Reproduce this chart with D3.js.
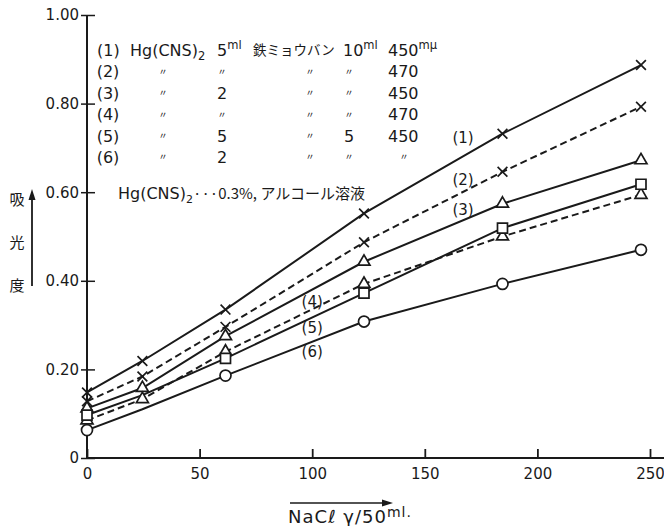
<!DOCTYPE html>
<html>
<head>
<meta charset="utf-8">
<script src="https://cdn.jsdelivr.net/npm/d3@7"></script>
<style>
  body { margin: 0; background: #fff; }
  svg text { font-family: "DejaVu Sans", sans-serif; fill: #1a1a1a; }
  .jp { font-family: "Noto Sans CJK JP", sans-serif; }
</style>
</head>
<body>
<svg id="chart" width="664" height="526"></svg>
<script>
// NaCl (gamma / 50 ml) on x, absorbance on y
var nacl = [0, 24.6, 61.5, 123, 184.5, 246];
var abs1 = [0.148, 0.219, 0.335, 0.552, 0.732, 0.887];
var abs2 = [0.128, 0.184, 0.296, 0.487, 0.646, 0.793];
var abs3 = [0.112, 0.158, 0.275, 0.443, 0.574, 0.672];
var abs4 = [0.085, 0.133, 0.240, 0.393, 0.500, 0.594];
var abs5 = [0.097, 0.142, 0.225, 0.372, 0.519, 0.618];
var abs6 = [0.063, 0.110, 0.186, 0.308, 0.393, 0.470];
var seriesNames = ["(1)", "(2)", "(3)", "(4)", "(5)", "(6)"];
var xTicks = [0, 50, 100, 150, 200, 250];
var yTicks = [0, 0.2, 0.4, 0.6, 0.8, 1.0];

// legend table ("^" = superscript, "_" = subscript)
var legendHead = ["(1)", "Hg(CNS)_2", "5^ml", "鉄ミョウバン", "10^ml", "450^mμ"];
var legendRows = [
  ["(2)", "〃", "〃", "〃", "〃", "470"],
  ["(3)", "〃", "2", "〃", "〃", "450"],
  ["(4)", "〃", "〃", "〃", "〃", "470"],
  ["(5)", "〃", "5", "〃", "5", "450"],
  ["(6)", "〃", "2", "〃", "〃", "〃"]
];
var noteText = ["Hg(CNS)", "2", "···0.3%, アルコール溶液"];

var svg = d3.select("#chart")
var x = d3.scaleLinear().domain([0, 250]).range([87, 650])
var y = d3.scaleLinear().domain([0, 1]).range([458, 15])

// skip = points drawn without a marker in the original
var series = [
  {v: abs1, dash: null, sym: "x", skip: []},
  {v: abs2, dash: "7,4", sym: "x", skip: []},
  {v: abs3, dash: null, sym: "tri", skip: []},
  {v: abs4, dash: "7,4", sym: "tri", skip: []},
  {v: abs5, dash: null, sym: "sq", skip: [1]},
  {v: abs6, dash: null, sym: "o", skip: [1]}
]

// axes
var gx = svg.append("g").attr("transform", "translate(0," + y(0) + ")")
  .call(d3.axisBottom(x).tickValues(xTicks).tickSize(-9).tickSizeOuter(0).tickPadding(10))
gx.select(".domain").remove()
gx.selectAll("line").attr("stroke", "#1a1a1a").attr("stroke-width", 1.8)
gx.selectAll("text").attr("font-size", 15).attr("fill", "#1a1a1a")
svg.append("line").attr("x1", x(0)).attr("x2", 664).attr("y1", y(0)).attr("y2", y(0))
  .attr("stroke", "#1a1a1a").attr("stroke-width", 2)

var gy = svg.append("g").attr("transform", "translate(" + x(0) + ",0)")
  .call(d3.axisLeft(y).tickValues(yTicks).tickSize(6).tickSizeOuter(0).tickPadding(2)
    .tickFormat(function(d) { return d === 0 ? "0" : d.toFixed(2) }))
gy.select(".domain").remove()
gy.selectAll("line").attr("x1", 8).attr("stroke", "#1a1a1a").attr("stroke-width", 1.5)
gy.selectAll("text").attr("font-size", 15).attr("fill", "#1a1a1a")
svg.append("line").attr("x1", x(0)).attr("x2", x(0)).attr("y1", y(1)).attr("y2", y(0))
  .attr("stroke", "#1a1a1a").attr("stroke-width", 2)

// curves
var line = d3.line().x(function(d, i) { return x(nacl[i]) }).y(function(d) { return y(d) })
series.forEach(function(s) {
  svg.append("path").attr("d", line(s.v)).attr("fill", "none")
    .attr("stroke", "#1a1a1a").attr("stroke-width", 2)
    .attr("stroke-dasharray", s.dash)
})

var symbols = {
  x: d3.symbol().type(d3.symbolTimes).size(64),
  tri: d3.symbol().type(d3.symbolTriangle).size(62),
  sq: d3.symbol().type(d3.symbolSquare).size(100),
  o: d3.symbol().type(d3.symbolCircle).size(95)
}
series.forEach(function(s) {
  var pts = s.v.map(function(d, i) { return [nacl[i], d, i] })
    .filter(function(p) { return s.skip.indexOf(p[2]) < 0 })
  svg.append("g").selectAll("path").data(pts).enter().append("path")
    .attr("d", symbols[s.sym])
    .attr("transform", function(p) { return "translate(" + x(p[0]) + "," + y(p[1]) + ")" })
    .attr("fill", s.sym === "x" ? "none" : "#fff")
    .attr("stroke", "#1a1a1a").attr("stroke-width", 1.7)
})

// series labels, placed in data units
var labelAt = [[167, 0.722], [167, 0.627], [167, 0.560], [100, 0.353], [100, 0.294], [100, 0.239]]
svg.selectAll(".slabel").data(seriesNames).enter().append("text").attr("class", "slabel")
  .attr("x", function(d, i) { return x(labelAt[i][0]) })
  .attr("y", function(d, i) { return y(labelAt[i][1]) })
  .attr("dy", "0.35em").attr("text-anchor", "middle").attr("font-size", 15)
  .text(function(d) { return d })

// rich text helper for ^ and _
function rich(sel, str, size) {
  var m = str.match(/^([^\^_]*)([\^_])(.*)$/)
  var cjk = /[\u3000-\u9fff]/.test(str)
  if (cjk) sel.attr("class", "jp")
  if (!m) { sel.text(str); return }
  sel.append("tspan").text(m[1])
  sel.append("tspan").text(m[3]).attr("font-size", size * 0.72)
    .attr("dy", m[2] === "^" ? -size * 0.42 : size * 0.25)
}

var headX = [97, 130, 217, 253, 343, 388]
var rowY = [50, 71.5, 93, 114.5, 136, 157]
legendHead.forEach(function(t, j) {
  var el = svg.append("text").attr("x", headX[j]).attr("y", rowY[0]).attr("dy", "0.36em")
    .attr("font-size", t === "鉄ミョウバン" ? 13.5 : 16)
  rich(el, t, 16)
})
var colX = [108, 163, 222, 310, 349, 404]
legendRows.forEach(function(r, i) {
  r.forEach(function(t, j) {
    var ditto = t === "〃"
    svg.append("text").attr("y", rowY[i + 1]).attr("dy", "0.36em")
      .attr("text-anchor", j === 5 && !ditto ? "start" : "middle")
      .attr("x", j === 5 && !ditto ? 388 : colX[j])
      .attr("class", ditto ? "jp" : null)
      .attr("font-size", ditto ? 9 : 16)
      .text(t)
  })
})

var note = svg.append("text").attr("x", 118).attr("y", 193).attr("dy", "0.36em").attr("font-size", 16)
note.append("tspan").text(noteText[0])
note.append("tspan").text(noteText[1]).attr("font-size", 11).attr("dy", 4)
note.append("tspan").text(noteText[2]).attr("dy", -4).attr("class", "jp").attr("font-size", 15)

// y title with arrow
;["吸", "光", "度"].forEach(function(c, i) {
  svg.append("text").attr("class", "jp").attr("x", 17).attr("y", 200 + i * 43)
    .attr("dy", "0.36em").attr("text-anchor", "middle").attr("font-size", 15).text(c)
})
svg.append("line").attr("x1", 32).attr("x2", 32).attr("y1", 286).attr("y2", 198)
  .attr("stroke", "#1a1a1a").attr("stroke-width", 1.8)
svg.append("path").attr("d", "M32,189 L28.5,200 L35.5,200 Z").attr("fill", "#1a1a1a")

// x title with arrow
svg.append("line").attr("x1", 290).attr("x2", 384).attr("y1", 503).attr("y2", 503)
  .attr("stroke", "#1a1a1a").attr("stroke-width", 1.6)
svg.append("path").attr("d", "M393,503 L382,499.5 L382,506.5 Z").attr("fill", "#1a1a1a")
var xt = svg.append("text").attr("x", 350).attr("y", 523).attr("text-anchor", "middle")
  .attr("font-size", 18).attr("letter-spacing", 1)
xt.append("tspan").text("NaCℓ  γ/50")
xt.append("tspan").text("ml.").attr("font-size", 14).attr("dy", -6)
</script>
</body>
</html>
